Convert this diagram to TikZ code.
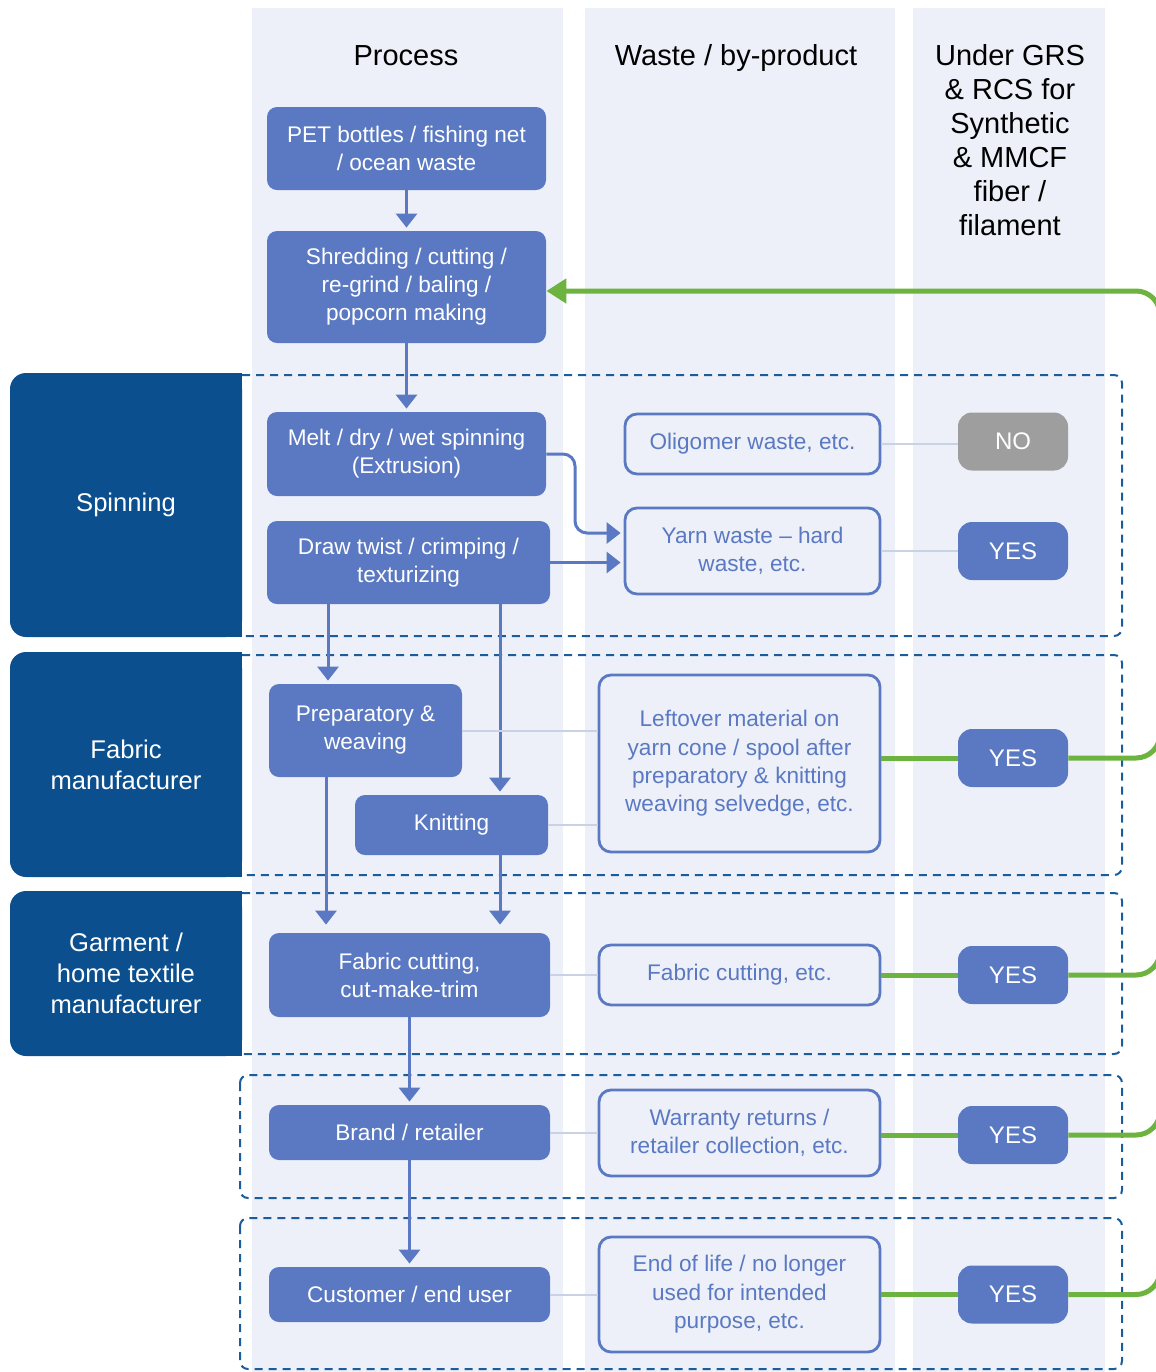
\documentclass[tikz,border=0pt]{standalone}
\usepackage{fontspec}
\setmainfont{Liberation Sans}
\usetikzlibrary{arrows.meta,positioning}
\definecolor{procblue}{HTML}{5A79C2}
\definecolor{stageblue}{HTML}{0B4F8F}
\definecolor{zoneblue}{HTML}{1C5C9A}
\definecolor{colbg}{HTML}{EDF0F8}
\definecolor{nogray}{HTML}{9E9E9E}
\definecolor{loopgreen}{HTML}{6CB33F}
\definecolor{linkgray}{HTML}{C9D1E5}
\tikzset{
	proc/.style={fill=procblue, text=white, rounded corners=5pt, align=center, inner sep=0pt, font=\fontsize{11.3}{14}\selectfont},
	waste/.style={draw=procblue, line width=1.4pt, fill=colbg, text=procblue, rounded corners=6pt, align=center, inner sep=0pt, font=\fontsize{11.3}{14.2}\selectfont},
	grs/.style={fill=procblue, text=white, rounded corners=7pt, minimum width=55pt, minimum height=29pt, inner sep=0pt, font=\fontsize{12}{14}\selectfont},
	stage/.style={fill=stageblue, text=white, rounded corners=8pt, align=center, minimum width=116pt, inner sep=0pt, font=\fontsize{12.8}{15.5}\selectfont},
	head/.style={align=center, font=\fontsize{14.5}{17}\selectfont},
	zone/.style={draw=zoneblue, line width=1pt, dash pattern=on 4pt off 3pt, rounded corners=4pt},
	flow/.style={draw=procblue, line width=1.5pt, -{Triangle[width=10.5pt,length=7pt]}, shorten >=1.5pt},
	link/.style={draw=linkgray, line width=1pt},
	greenline/.style={draw=loopgreen, line width=2.5pt, rounded corners=12pt}
}
\begin{document}
\begin{tikzpicture}[x=0.5pt,y=-0.5pt]
	\useasboundingbox (0,0) rectangle (1156,1372);
	\clip (0,0) rectangle (1156,1372);
	\fill[colbg] (252,8) rectangle (563,1372);
	\fill[colbg] (585,8) rectangle (895,1372);
	\fill[colbg] (913,8) rectangle (1105,1372);

	\node (hproc) at (406,56) [head] {Process};
	\node (hwaste) at (736,58) [head] {Waste / by-product};
	\node (hgrs) at (1010,140) [head] {Under GRS\\\& RCS for\\Synthetic\\\& MMCF\\fiber /\\filament};

	\fill[stageblue] (126,373) rectangle (242,637);
	\fill[stageblue] (126,652) rectangle (242,877);
	\fill[stageblue] (126,891) rectangle (242,1056);
	\node (spin) at (126,505) [stage, minimum height=132pt] {Spinning};
	\node (fab) at (126,764.5) [stage, minimum height=112.5pt] {Fabric\\manufacturer};
	\node (garm) at (126,973.5) [stage, minimum height=82.5pt] {Garment /\\home textile\\manufacturer};

	\draw[zone] (242,375) -- (1122,375) -- (1122,636) -- (242,636);
	\draw[zone] (242,655) -- (1122,655) -- (1122,875) -- (242,875);
	\draw[zone] (242,893) -- (1122,893) -- (1122,1054) -- (242,1054);
	\draw[zone] (240,1075) rectangle (1122,1198);
	\draw[zone] (240,1218) rectangle (1122,1369);

	\node (pet) at (406.5,148.5) [proc, minimum width=139.5pt, minimum height=41.5pt] {PET bottles / fishing net\\/ ocean waste};
	\node (shred) at (406.5,287) [proc, minimum width=139.5pt, minimum height=56pt] {Shredding / cutting /\\re-grind / baling /\\popcorn making};
	\node (melt) at (406.5,454) [proc, minimum width=139.5pt, minimum height=42pt] {Melt / dry / wet spinning\\(Extrusion)};
	\node (draw) at (408.5,562.5) [proc, minimum width=141.5pt, minimum height=41.5pt] {Draw twist / crimping /\\texturizing};
	\node (prep) at (365.5,730.5) [proc, minimum width=96.5pt, minimum height=46.5pt] {Preparatory \&\\weaving};
	\node (knit) at (451.5,825) [proc, minimum width=96.5pt, minimum height=30pt] {Knitting};
	\node (cut) at (409.5,975) [proc, minimum width=140.5pt, minimum height=42pt] {Fabric cutting,\\cut-make-trim};
	\node (brand) at (409.5,1132.5) [proc, minimum width=140.5pt, minimum height=27.5pt] {Brand / retailer};
	\node (cust) at (409.5,1294.5) [proc, minimum width=140.5pt, minimum height=27.5pt] {Customer / end user};

	\node (olig) at (752.5,444) [waste, minimum width=127.5pt, minimum height=30pt] {Oligomer waste, etc.};
	\node (yarn) at (752.5,551) [waste, minimum width=127.5pt, minimum height=43pt] {Yarn waste – hard\\waste, etc.};
	\node (left) at (739.5,763.5) [waste, minimum width=140.5pt, minimum height=88.5pt] {Leftover material on\\yarn cone / spool after\\preparatory \& knitting\\weaving selvedge, etc.};
	\node (wcut) at (739.5,975) [waste, minimum width=140.5pt, minimum height=30pt] {Fabric cutting, etc.};
	\node (warr) at (739.5,1133) [waste, minimum width=140.5pt, minimum height=43pt] {Warranty returns /\\retailer collection, etc.};
	\node (eol) at (739.5,1294.5) [waste, minimum width=140.5pt, minimum height=57.5pt] {End of life / no longer\\used for intended\\purpose, etc.};

	\node (no) at (1013,441.5) [grs, fill=nogray] {NO};
	\node (yes1) at (1013,551) [grs] {YES};
	\node (yes2) at (1013,758) [grs] {YES};
	\node (yes3) at (1013,975) [grs] {YES};
	\node (yes4) at (1013,1135) [grs] {YES};
	\node (yes5) at (1013,1294.5) [grs] {YES};

	\coordinate (bend) at (575,533);
	\coordinate (colA) at (328,0);
	\coordinate (colB) at (500,0);
	\coordinate (colC) at (326,0);
	\coordinate (rail) at (1160,291);

	\draw[flow] (pet) -- (shred);
	\draw[flow] (shred) -- (melt);
	\draw[flow, rounded corners=6pt] (melt.east) -| (bend) -- (bend -| yarn.west);
	\draw[flow] (draw.east) -- (draw.east -| yarn.west);
	\draw[flow] (draw.south -| colA) -- (prep.north -| colA);
	\draw[flow] (draw.south -| colB) -- (knit.north -| colB);
	\draw[flow, shorten >=4pt] (prep.south -| colC) -- (cut.north -| colC);
	\draw[flow, shorten >=4pt] (knit.south -| colB) -- (cut.north -| colB);
	\draw[flow] (cut) -- (brand);
	\draw[flow] (brand) -- (cust);

	\draw[link] (olig.east) -- (olig.east -| no.west);
	\draw[link] (yarn.east) -- (yarn.east -| yes1.west);
	\draw[link] (prep.east) -- (prep.east -| left.west);
	\draw[link] (knit.east) -- (knit.east -| left.west);
	\draw[link] (cut.east) -- (wcut.west);
	\draw[link] (brand.east) -- (brand.east -| warr.west);
	\draw[link] (cust.east) -- (eol.west);

	\draw[greenline] (yes2.west -| left.east) -- (yes2.west);
	\draw[greenline] (wcut.east) -- (yes3.west);
	\draw[greenline] (yes4.west -| warr.east) -- (yes4.west);
	\draw[greenline] (eol.east) -- (yes5.west);
	\draw[greenline, {Triangle[width=12pt,length=10pt]}-] (shred.east |- rail) -- (rail) -- (rail |- yes5.east) -- (yes5.east);
	\foreach \n in {yes2,yes3,yes4} \draw[greenline] (\n.east) -| (rail);
\end{tikzpicture}
\end{document}
